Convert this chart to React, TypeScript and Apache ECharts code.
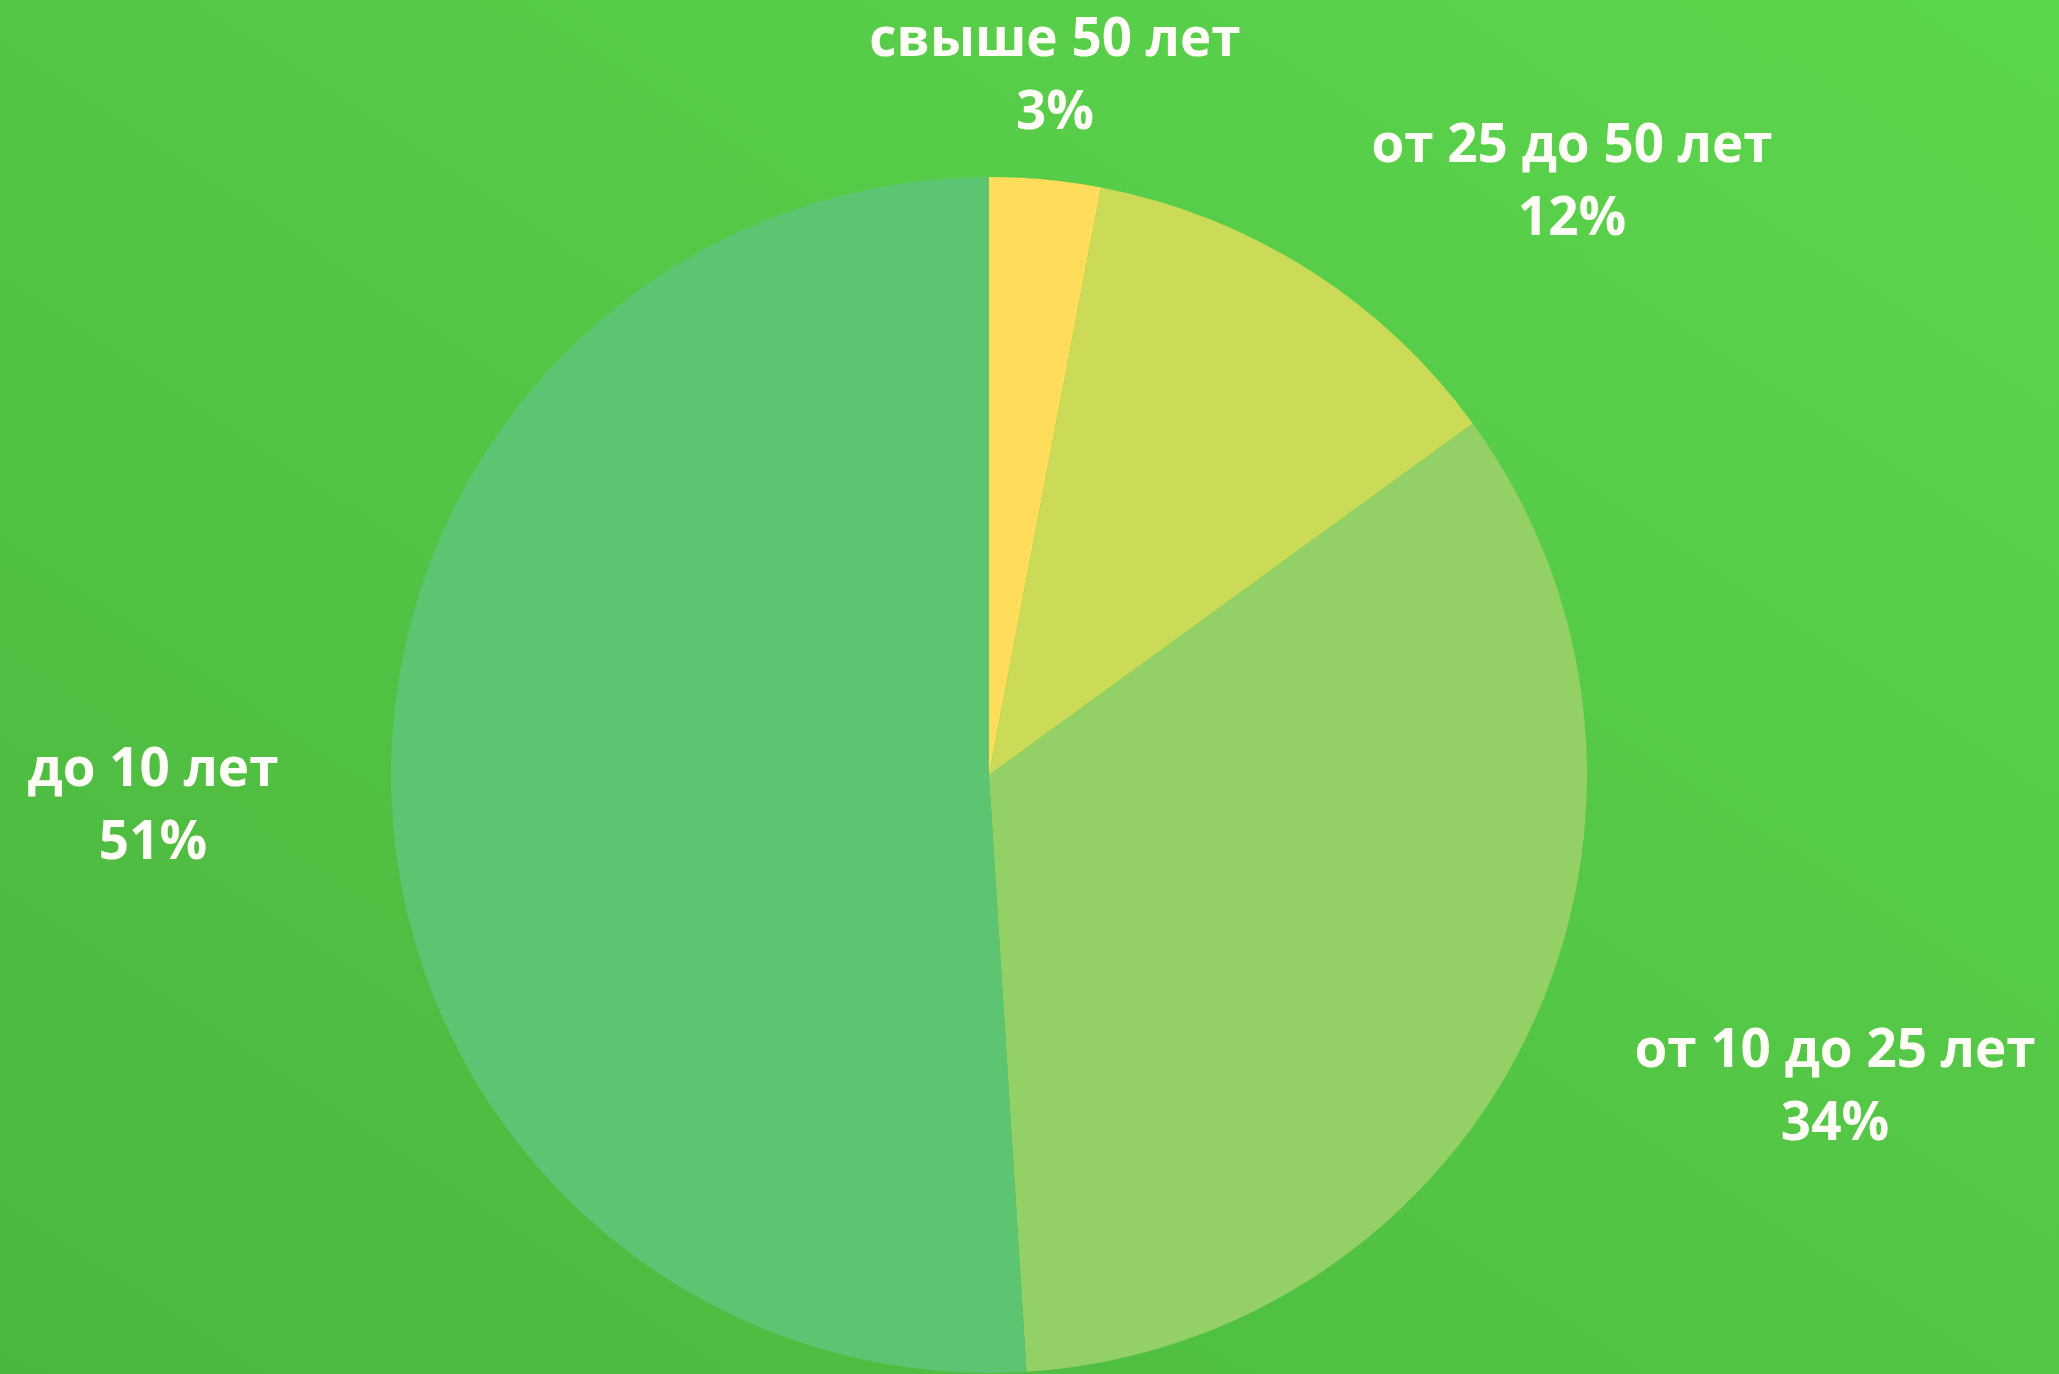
import React, { useEffect, useRef } from "react";
import * as echarts from "echarts";

const categories = ["свыше 50 лет", "от 25 до 50 лет", "от 10 до 25 лет", "до 10 лет"];
const values = [3, 12, 34, 51];
const colors = ["#FFDC5A", "#CBDB58", "#93D166", "#5DC572"];
// label centre positions (layout only)
const labelPos = [
  [1055, 72],
  [1572, 178],
  [1835, 1083],
  [153, 802],
];

export default function App() {
  const ref = useRef<HTMLDivElement>(null);
  useEffect(() => {
    document.body.style.margin = "0";
    const chart = echarts.init(ref.current!, null, { renderer: "svg" });
    chart.setOption({
      animation: false,
      backgroundColor: {
        type: "linear",
        x: 0,
        y: 1,
        x2: 1,
        y2: 0,
        colorStops: [
          { offset: 0, color: "#4bb63e" },
          { offset: 1, color: "#5cd64d" },
        ],
      },
      series: [
        {
          type: "pie",
          center: [989, 775],
          radius: 598,
          startAngle: 90,
          clockwise: true,
          silent: true,
          emphasis: { disabled: true },
          labelLine: { show: false },
          label: {
            show: true,
            position: "outside",
            formatter: "{b}\n{c}%",
            color: "#fffef6",
            fontFamily: "Open Sans",
            fontWeight: "bold",
            fontSize: 53,
            lineHeight: 73,
            align: "center",
          },
          labelLayout: (params: any) => {
            const p = labelPos[params.dataIndex];
            return { x: p[0], y: p[1], align: "center", verticalAlign: "middle" };
          },
          data: categories.map((c, i) => ({
            name: c,
            value: values[i],
            itemStyle: { color: colors[i] },
          })),
        },
      ],
    });
    return () => chart.dispose();
  }, []);
  return <div ref={ref} style={{ position: "fixed", left: 0, top: 0, width: 2059, height: 1374 }} />;
}
